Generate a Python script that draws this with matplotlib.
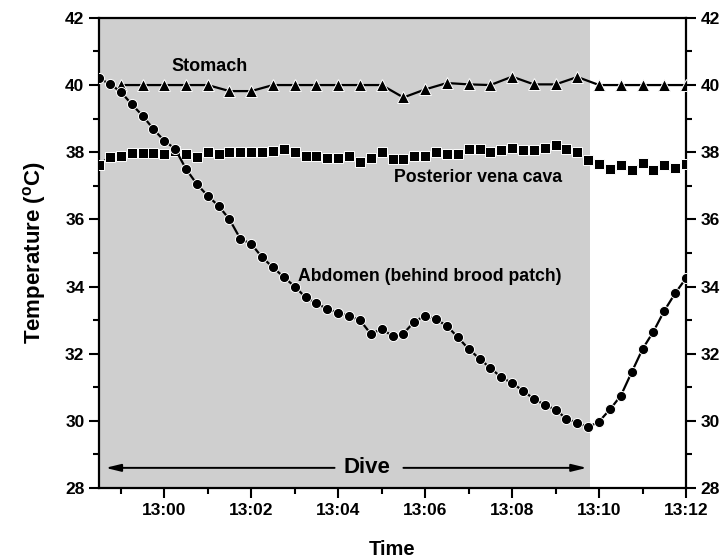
import matplotlib
matplotlib.use('Agg')
import matplotlib.pyplot as plt
import matplotlib.dates as mdates
from matplotlib.ticker import MultipleLocator
import pandas as pd

plt.rcParams['font.family'] = ['Liberation Sans', 'DejaVu Sans']
plt.rcParams['font.weight'] = 'bold'

# body temperatures during one dive (degC)
stomach_t0 = '2000-01-01 12:59:00'
stomach = [40.0, 40.0, 40.0, 40.0, 40.0, 39.82, 39.82, 40.0, 40.0, 40.0,
           40.0, 40.0, 40.0, 39.63, 39.87, 40.06, 40.02, 40.0, 40.25, 40.02,
           40.02, 40.24, 40.0, 40.0, 40.0, 40.0, 40.0]

series_t0 = '2000-01-01 12:58:30'
vena_cava = [37.62, 37.87, 37.9, 37.98, 37.97, 37.98, 37.95, 38.03, 37.95, 37.87,
             38.0, 37.94, 38.0, 38.0, 38.0, 38.0, 38.05, 38.1, 38.0, 37.9,
             37.9, 37.82, 37.82, 37.9, 37.72, 37.82, 38.0, 37.8, 37.8, 37.9,
             37.9, 38.0, 37.95, 37.95, 38.1, 38.1, 38.0, 38.07, 38.14, 38.07,
             38.07, 38.12, 38.2, 38.1, 38.0, 37.77, 37.65, 37.5, 37.62, 37.47,
             37.67, 37.47, 37.62, 37.53, 37.65]

abdomen = [40.2, 40.03, 39.8, 39.43, 39.09, 38.69, 38.34, 38.1, 37.5, 37.05,
           36.7, 36.4, 36.0, 35.42, 35.27, 34.87, 34.57, 34.28, 34.0, 33.68,
           33.5, 33.33, 33.22, 33.12, 33.0, 32.59, 32.73, 32.53, 32.6, 32.95,
           33.13, 33.02, 32.83, 32.49, 32.14, 31.85, 31.57, 31.3, 31.12, 30.9,
           30.65, 30.48, 30.33, 30.06, 29.94, 29.81, 29.98, 30.34, 30.75, 31.45,
           32.14, 32.66, 33.28, 33.8, 34.25]

t_stomach = pd.date_range(stomach_t0, periods=len(stomach), freq='30s')
t_series = pd.date_range(series_t0, periods=len(abdomen), freq='15s')

t_start = pd.Timestamp('2000-01-01 12:58:30')
t_end = pd.Timestamp('2000-01-01 13:12:00')
dive_end = pd.Timestamp('2000-01-01 13:09:48')

fig = plt.figure(figsize=(7.26, 5.59), dpi=100)
ax = fig.add_axes([0.1364, 0.127, 0.8086, 0.841])

ax.axvspan(t_start, dive_end, color='#cfcfcf', lw=0, zorder=0)

common = dict(color='black', lw=1.6, mfc='black', mec='white', mew=0.7, zorder=3)
ax.plot(t_stomach, stomach, marker='^', ms=8, **common)
ax.plot(t_series, vena_cava, marker='s', ms=7, **common)
ax.plot(t_series, abdomen, marker='o', ms=7.3, **common)

ax.set_xlim(t_start, t_end)
ax.set_ylim(28, 42)

ax.xaxis.set_major_locator(mdates.MinuteLocator(byminute=range(0, 60, 2)))
ax.xaxis.set_minor_locator(mdates.MinuteLocator())
ax.xaxis.set_major_formatter(mdates.DateFormatter('%H:%M'))
ax.yaxis.set_major_locator(MultipleLocator(2))
ax.yaxis.set_minor_locator(MultipleLocator(1))

ax.tick_params(which='both', direction='out', width=1.5, labelsize=12.5,
               right=True, labelright=True)
ax.tick_params(which='major', length=7)
ax.tick_params(which='minor', length=4)
for s in ax.spines.values():
    s.set_linewidth(1.6)

ax.set_xlabel('Time', fontsize=14.5, fontweight='bold', labelpad=16)
ax.set_ylabel('Temperature ($\\mathregular{^o}$C)', fontsize=16, fontweight='bold', labelpad=12)

ax.text(pd.Timestamp('2000-01-01 13:01:03'), 40.55, 'Stomach', fontsize=13,
        fontweight='bold', ha='center', va='center')
ax.text(pd.Timestamp('2000-01-01 13:05:17'), 37.25, 'Posterior vena cava', fontsize=12.8,
        fontweight='bold', ha='left', va='center')
ax.text(pd.Timestamp('2000-01-01 13:03:05'), 34.3, 'Abdomen (behind brood patch)', fontsize=12.7,
        fontweight='bold', ha='left', va='center')

# dive arrow
dive_mid = pd.Timestamp('2000-01-01 13:04:39')
ax.text(dive_mid, 28.6, 'Dive', fontsize=16, fontweight='bold', ha='center', va='center')
arrow = dict(arrowstyle='-|>,head_length=0.9,head_width=0.22', color='black', lw=1.4,
             shrinkA=0, shrinkB=0)
ax.annotate('', xy=(pd.Timestamp('2000-01-01 12:58:39'), 28.6),
            xytext=(pd.Timestamp('2000-01-01 13:03:55'), 28.6), arrowprops=arrow)
ax.annotate('', xy=(pd.Timestamp('2000-01-01 13:09:43'), 28.6),
            xytext=(pd.Timestamp('2000-01-01 13:05:30'), 28.6), arrowprops=arrow)

fig.savefig('out.png', dpi=100)
